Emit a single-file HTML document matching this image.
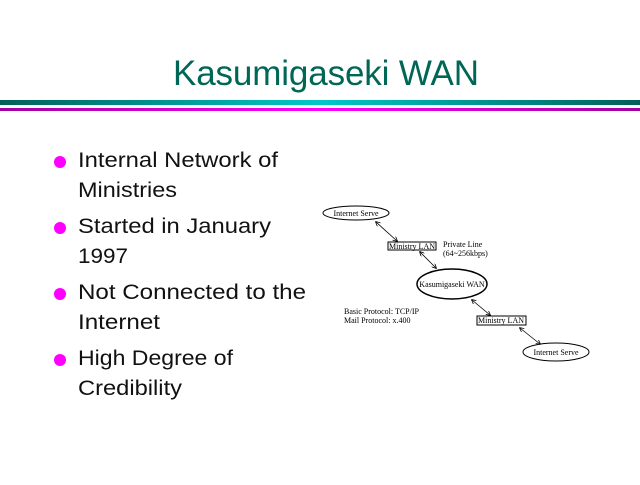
<!DOCTYPE html>
<html><head><style>
body{margin:0;background:#fff;width:640px;height:480px;overflow:hidden}
</style></head><body>
<svg width="640" height="480" xmlns="http://www.w3.org/2000/svg">
<defs>
<linearGradient id="g1" x1="0" x2="1"><stop offset="0" stop-color="#006058"/><stop offset="0.5" stop-color="#00c8c8"/><stop offset="1" stop-color="#006058"/></linearGradient>
<linearGradient id="g2" x1="0" x2="1"><stop offset="0" stop-color="#a000a0"/><stop offset="0.5" stop-color="#ff00ff"/><stop offset="1" stop-color="#a000a0"/></linearGradient>
<marker id="a" markerWidth="6" markerHeight="6" refX="5" refY="3" orient="auto-start-reverse"><path d="M0,0 L6,3 L0,6" fill="none" stroke="#000" stroke-width="1"/></marker>
</defs>
<text x="326" y="85" text-anchor="middle" font-family="Liberation Sans, sans-serif" font-size="35" fill="#006655" textLength="306">Kasumigaseki WAN</text>
<rect x="0" y="100" width="640" height="5" fill="url(#g1)"/>
<rect x="0" y="108" width="640" height="3" fill="url(#g2)"/>
<g font-family="Liberation Sans, sans-serif" font-size="21" fill="#111" lengthAdjust="spacingAndGlyphs">
<circle cx="60" cy="162" r="6" fill="#f0f"/>
<text x="78" y="167" textLength="200" lengthAdjust="spacingAndGlyphs">Internal Network of</text>
<text x="78" y="197" textLength="99" lengthAdjust="spacingAndGlyphs">Ministries</text>
<circle cx="60" cy="228" r="6" fill="#f0f"/>
<text x="78" y="233" textLength="193" lengthAdjust="spacingAndGlyphs">Started in January</text>
<text x="78" y="263" textLength="50" lengthAdjust="spacingAndGlyphs">1997</text>
<circle cx="60" cy="294" r="6" fill="#f0f"/>
<text x="78" y="299" textLength="228" lengthAdjust="spacingAndGlyphs">Not Connected to the</text>
<text x="78" y="329" textLength="82" lengthAdjust="spacingAndGlyphs">Internet</text>
<circle cx="60" cy="360" r="6" fill="#f0f"/>
<text x="78" y="365" textLength="155" lengthAdjust="spacingAndGlyphs">High Degree of</text>
<text x="78" y="395" textLength="104" lengthAdjust="spacingAndGlyphs">Credibility</text>
</g>
<g font-family="Liberation Serif, serif" font-size="8" fill="#000" stroke="#000">
<ellipse cx="356" cy="213" rx="33" ry="7" fill="#fff" stroke-width="1"/>
<text x="356" y="216" text-anchor="middle" stroke="none">Internet Serve</text>
<rect x="388" y="242" width="48" height="8" fill="#fff"/>
<text x="412" y="249" text-anchor="middle" stroke="none">Ministry LAN</text>
<text x="443" y="247" stroke="none">Private Line</text>
<text x="443" y="256" stroke="none">(64~256kbps)</text>
<ellipse cx="452" cy="284" rx="35" ry="15" fill="#fff" stroke-width="1.5"/>
<text x="452" y="287" text-anchor="middle" stroke="none">Kasumigaseki WAN</text>
<text x="344" y="314" stroke="none">Basic Protocol: TCP/IP</text>
<text x="344" y="323" stroke="none">Mail Protocol: x.400</text>
<rect x="477" y="316" width="49" height="9" fill="#fff"/>
<text x="501" y="323" text-anchor="middle" stroke="none">Ministry LAN</text>
<ellipse cx="556" cy="352" rx="33" ry="9" fill="#fff" stroke-width="1"/>
<text x="556" y="355" text-anchor="middle" stroke="none">Internet Serve</text>
<g stroke-width="0.8" marker-start="url(#a)" marker-end="url(#a)">
<line x1="376" y1="222" x2="397" y2="241"/>
<line x1="420" y1="252" x2="436" y2="268"/>
<line x1="472" y1="300" x2="490" y2="315"/>
<line x1="520" y1="328" x2="540" y2="344"/>
</g>
</g>
</svg>
</body></html>
